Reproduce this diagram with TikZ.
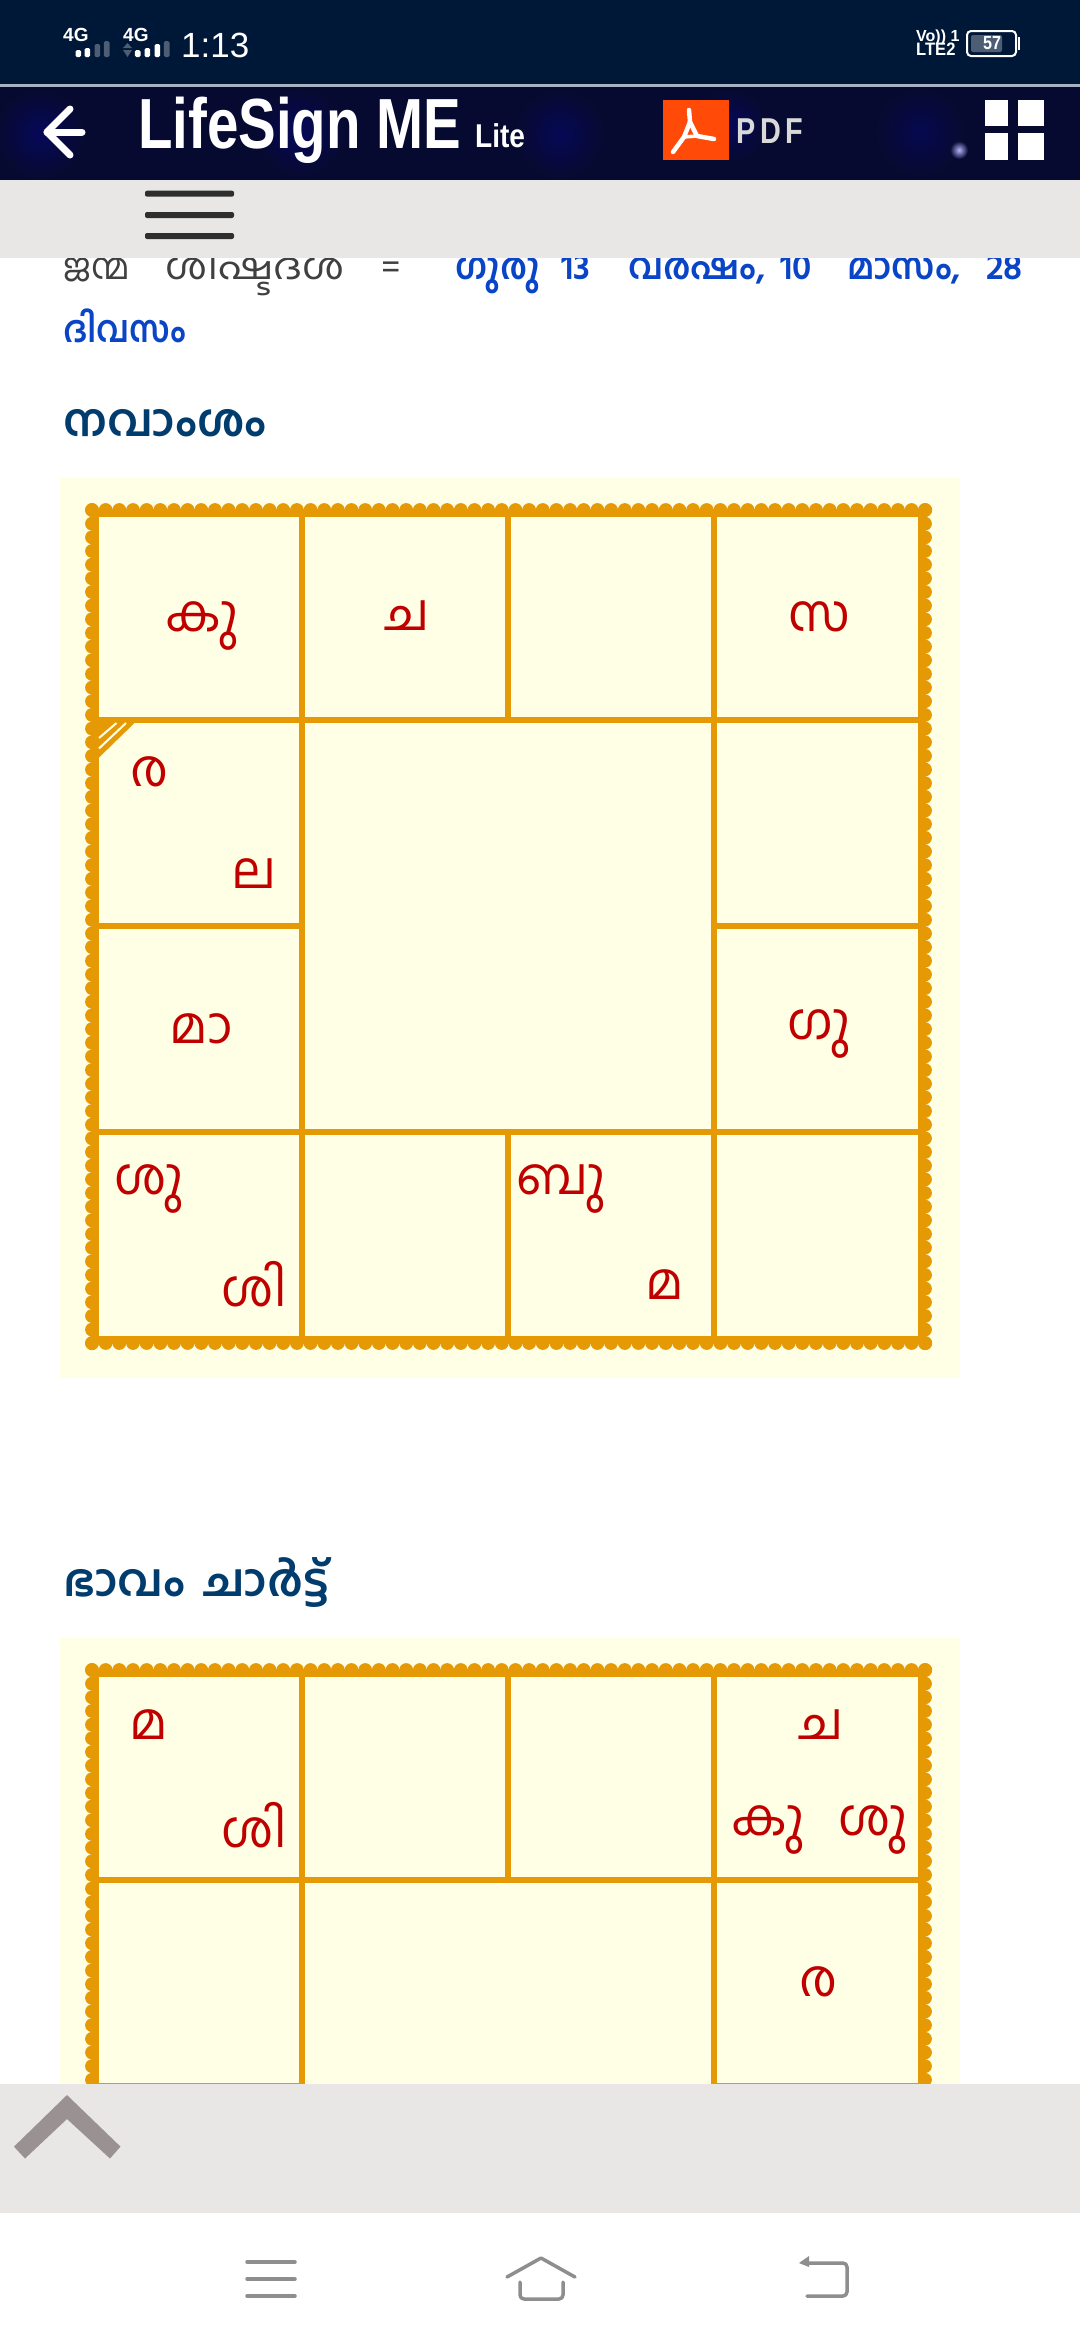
\documentclass[tikz,border=0pt]{standalone}
\usepackage{fontspec}
\setmainfont{Liberation Sans}
\newfontfamily\malfont[Script=Malayalam]{Hind Kochi}
\definecolor{barnavy}{HTML}{001838}
\definecolor{headnavy}{HTML}{070A30}
\definecolor{barline}{HTML}{A8B0C4}
\definecolor{bargray}{HTML}{E8E7E6}
\definecolor{chartgold}{HTML}{E59A05}
\definecolor{chartbg}{HTML}{FFFFE5}
\definecolor{signred}{HTML}{C00000}
\definecolor{linkblue}{HTML}{0A45C8}
\definecolor{headblue}{HTML}{003C6E}
\definecolor{iconred}{HTML}{FF4A08}
\definecolor{navgray}{HTML}{8E8E8E}
\definecolor{chevgray}{HTML}{9A9292}
\tikzset{
  sign/.style={font=\malfont\fontsize{51}{51}\selectfont,text=signred,inner sep=0pt},
  link/.style={font=\malfont\bfseries\fontsize{37}{37}\selectfont,text=linkblue,anchor=base west,inner sep=0pt,xscale=0.95,transform shape},
  plain/.style={font=\malfont\fontsize{37}{37}\selectfont,text=black!75,anchor=base west,inner sep=0pt,xscale=0.95,transform shape},
  heading/.style={font=\malfont\bfseries\fontsize{45}{45}\selectfont,text=headblue,anchor=base west,inner sep=0pt,xscale=1.02,transform shape},
  status/.style={text=white,inner sep=0pt,anchor=base west},
  navline/.style={color=navgray,line width=3.5pt,line cap=round,line join=round},
}
\begin{document}
\begin{tikzpicture}[x=1pt,y=-1pt]
\useasboundingbox (0,0) rectangle (1080,2340);
\fill [color=white] (0,0) rectangle (1080,2340);

\node (leadwa) at (63,279) [plain] {ജന്മ};
\node (leadwb) at (165,279) [plain,xscale=1.17] {ശിഷ്ടദശ};
\node (leadeq) at (381,279) [plain] {=};
\node (dasaa) at (455,279) [link] {ഗുരു};
\node (dasab) at (561,279) [link] {13};
\node (dasac) at (628,279) [link] {വർഷം,};
\node (dasad) at (780,279) [link] {10};
\node (dasae) at (847,279) [link] {മാസം,};
\node (dasaf) at (986,279) [link] {28};
\node (dasag) at (63,342) [link,xscale=0.94] {ദിവസം};
\node (navhead) at (63,436) [heading] {നവാംശം};
\node (bhavahead) at (63,1596) [heading] {ഭാവം\hspace{18pt}ചാർട്ട്};

\foreach \oy in {0,1160} {
\fill [color=chartbg] (60,478+\oy) rectangle (960,1378+\oy);
\foreach \i in {0,...,61} {
\fill [color=chartgold] (92+13.66*\i,510+\oy) circle (6.9);%top
\fill [color=chartgold] (92+13.66*\i,1343+\oy) circle (6.9);%bottom
\fill [color=chartgold] (92,510+13.66*\i+\oy) circle (6.9);%left
\fill [color=chartgold] (925,510+13.66*\i+\oy) circle (6.9);%right
}
\draw [color=chartgold,line width=7.5pt] (95.2,513.2+\oy) rectangle (921.8,1339.8+\oy);
\draw [color=chartgold,line width=5.6pt] (302,517+\oy)--(302,1336+\oy);
\draw [color=chartgold,line width=5.6pt] (714,517+\oy)--(714,1336+\oy);
\draw [color=chartgold,line width=5.6pt] (99,720+\oy)--(918,720+\oy);
\draw [color=chartgold,line width=5.6pt] (99,1132+\oy)--(918,1132+\oy);
\draw [color=chartgold,line width=5.6pt] (508,517+\oy)--(508,720+\oy);
\draw [color=chartgold,line width=5.6pt] (508,1132+\oy)--(508,1336+\oy);
\draw [color=chartgold,line width=5.6pt] (99,926+\oy)--(302,926+\oy);
\draw [color=chartgold,line width=5.6pt] (714,926+\oy)--(918,926+\oy);
}

\fill [color=chartgold] (99,722)--(135.5,722)--(99,757.5)--cycle;%lagna mark
\draw [color=chartbg,line width=2pt] (99,738)--(116.5,723);
\draw [color=chartbg,line width=2pt] (99,748.5)--(126,723);

\node (nkuja) at (202,626) [sign] {കു};
\node (nchandra) at (407,616) [sign] {ച};
\node (nsani) at (819,617) [sign] {സ};
\node (nravi) at (150,772) [sign] {ര};
\node (nlagna) at (254,874) [sign] {ല};
\node (nmandi) at (201,1029) [sign] {മാ};
\node (nguru) at (819,1034) [sign] {ഗു};
\node (nsukra) at (149,1189) [sign] {ശു};
\node (nsikhi) at (254,1284) [sign] {ശി};
\node (nbudha) at (561,1189) [sign] {ബു};
\node (nmars) at (665,1285) [sign] {മ};

\node (bmars) at (149,1725) [sign] {മ};
\node (bsikhi) at (254,1825) [sign] {ശി};
\node (bchandra) at (821,1725) [sign] {ച};
\node (bkuja) at (768,1830) [sign] {കു};
\node (bsukra) at (873,1830) [sign] {ശു};
\node (bravi) at (819,1982) [sign] {ര};

\fill [color=bargray] (0,2084) rectangle (1080,2213);%bottom bar
\fill [color=white] (0,2213) rectangle (1080,2340);
\fill [color=chevgray] (67,2095)--(120.5,2146.6)--(110,2158.5)--(67,2119)--(25,2158.5)--(14,2146.6)--cycle;
\draw [navline] (247,2262)--(295,2262);
\draw [navline] (247,2279)--(295,2279);
\draw [navline] (247,2296)--(295,2296);
\draw [navline] (507,2277)--(541,2258)--(575,2277);
\draw [navline,rounded corners=4pt] (520,2282)--(520,2299)--(563,2299)--(563,2282);
\draw [navline,rounded corners=4pt] (807,2296)--(847,2296)--(847,2263)--(805,2263);
\fill [color=navgray] (809,2256)--(799,2263)--(809,2267)--cycle;

\fill [color=bargray] (0,180) rectangle (1080,258);%top bar
\foreach \y in {193.7,215,236} \fill [color=black!82,rounded corners=2pt] (145,\y-3)--(234,\y-3)--(234,\y+3)--(145,\y+3)--cycle;

\fill [color=barnavy] (0,0) rectangle (1080,84);
\fill [color=barline] (0,84) rectangle (1080,87);
\fill [color=headnavy] (0,87) rectangle (1080,180);
\shade [inner color=blue!20!headnavy,outer color=headnavy] (300,132) circle (44);
\shade [inner color=blue!20!headnavy,outer color=headnavy] (730,125) circle (36);
\shade [inner color=blue!15!headnavy,outer color=headnavy] (920,132) circle (44);
\shade [inner color=blue!20!headnavy,outer color=headnavy] (40,134) circle (44);
\shade [inner color=blue!18!headnavy,outer color=headnavy] (560,134) circle (44);
\shade [inner color=white!70!blue,outer color=headnavy] (959,150) circle (9);

\node (statusa) at (63,41.5) [status,font=\bfseries\fontsize{19}{19}\selectfont] {4G};
\node (statusb) at (123,41.5) [status,font=\bfseries\fontsize{19}{19}\selectfont] {4G};
\node (clock) at (181,57) [status,font=\fontsize{35}{35}\selectfont] {1:13};
\foreach \x/\h/\c in {78.3/7/100,87.3/9/100,97.3/13/30,106.7/16/30,137.7/7/100,147.3/9/100,157.3/13/100,166.7/16/30}
\fill [color=white!\c!barnavy,rounded corners=1.5pt] (\x-2.8,57-\h)--(\x+2.8,57-\h)--(\x+2.8,57)--(\x-2.8,57)--cycle;
\fill [color=white!30!barnavy] (123,48)--(132,48)--(127.5,43)--cycle;
\fill [color=white!30!barnavy] (123,50)--(132,50)--(127.5,57)--cycle;
\node (volte) at (916,41) [status,font=\bfseries\fontsize{16}{16}\selectfont] {Vo)) 1};
\node (ltesim) at (916,55) [status,font=\bfseries\fontsize{18}{18}\selectfont,xscale=0.92,transform shape] {LTE2};
\draw [color=white,line width=2pt,rounded corners=4pt] (967,31)--(1016,31)--(1016,56)--(967,56)--cycle;
\fill [color=white!30!barnavy,rounded corners=2pt] (971,35)--(1002,35)--(1002,52)--(971,52)--cycle;
\fill [color=white] (1018,37)--(1020,37)--(1020,50)--(1018,50)--cycle;
\node (battery) at (992,43.5) [text=white,inner sep=0pt,font=\bfseries\fontsize{19}{19}\selectfont,xscale=0.85,transform shape] {57};

\draw [color=white,line width=7pt,line cap=round,line join=round] (82,132)--(47,132);
\draw [color=white,line width=7pt,line cap=round,line join=round] (70,109)--(47,132)--(70,155);
\node (title) at (138,148) [status,font=\bfseries\fontsize{71}{71}\selectfont,xscale=0.795,transform shape] {LifeSign ME};
\node (titlelite) at (475,147) [status,font=\bfseries\fontsize{33}{33}\selectfont,xscale=0.85,transform shape] {Lite};

\fill [color=iconred] (663,100)--(729,100)--(729,160)--(663,160)--cycle;
\draw [color=white,line width=4.5pt,line cap=round,line join=round]
 (689,110)--(690,122)--(697,136)--(714,139);
\draw [color=white,line width=4.5pt,line cap=round,line join=round]
 (673,152)--(684,137)--(690,122);
\draw [color=white,line width=3.5pt,line cap=round] (684,137)--(697,136);
\node (pdf) at (736,143) [status,text=white!85!black,font=\bfseries\fontsize{36}{36}\selectfont,xscale=0.8,transform shape] {P\,D\,F};
\fill [color=white] (985,100) rectangle (1008,126);
\fill [color=white] (1018,100) rectangle (1044,126);
\fill [color=white] (985,133) rectangle (1008,160);
\fill [color=white] (1018,133) rectangle (1044,160);

\end{tikzpicture}
\end{document}
